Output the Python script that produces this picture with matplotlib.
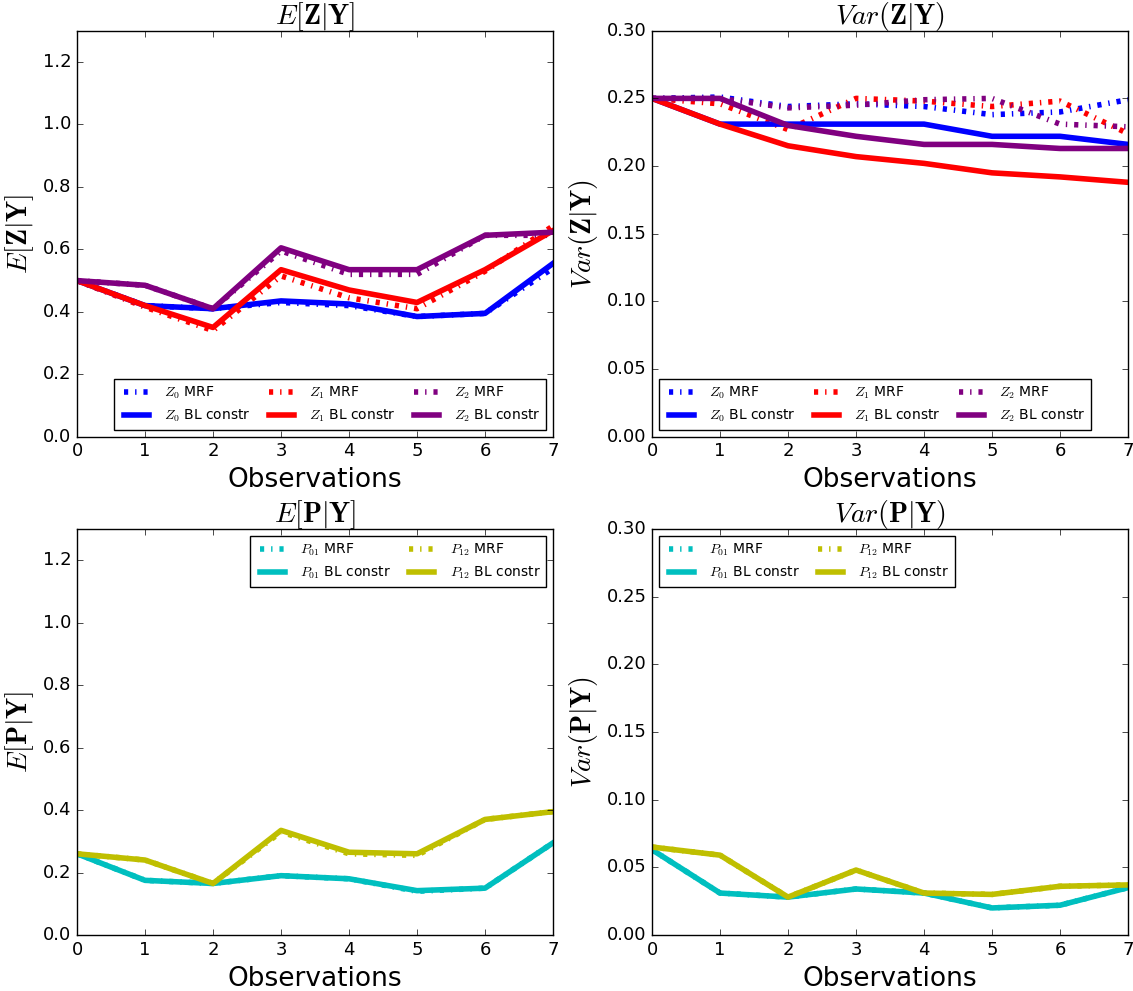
import numpy as np
import matplotlib
matplotlib.use('Agg')
import matplotlib.pyplot as plt

plt.style.use('classic')

obs = np.arange(8)

# E[Z|Y]
ez0_mrf = [0.50, 0.42, 0.41, 0.43, 0.42, 0.385, 0.395, 0.54]
ez1_mrf = [0.50, 0.415, 0.34, 0.515, 0.445, 0.41, 0.53, 0.675]
ez2_mrf = [0.50, 0.485, 0.41, 0.595, 0.52, 0.52, 0.645, 0.645]
ez0_bl = [0.50, 0.42, 0.41, 0.435, 0.425, 0.385, 0.395, 0.555]
ez1_bl = [0.50, 0.42, 0.35, 0.535, 0.47, 0.43, 0.535, 0.66]
ez2_bl = [0.50, 0.485, 0.41, 0.605, 0.535, 0.535, 0.645, 0.655]

# Var(Z|Y)
vz0_mrf = [0.25, 0.251, 0.244, 0.246, 0.244, 0.238, 0.240, 0.249]
vz1_mrf = [0.25, 0.246, 0.227, 0.250, 0.248, 0.244, 0.248, 0.224]
vz2_mrf = [0.25, 0.250, 0.243, 0.245, 0.249, 0.250, 0.231, 0.229]
vz0_bl = [0.25, 0.231, 0.231, 0.231, 0.231, 0.222, 0.222, 0.216]
vz1_bl = [0.25, 0.231, 0.215, 0.207, 0.202, 0.195, 0.192, 0.188]
vz2_bl = [0.25, 0.250, 0.230, 0.222, 0.216, 0.216, 0.213, 0.213]

# E[P|Y]
ep01_mrf = [0.26, 0.175, 0.165, 0.19, 0.18, 0.14, 0.15, 0.295]
ep12_mrf = [0.26, 0.24, 0.165, 0.33, 0.26, 0.255, 0.37, 0.395]
ep01_bl = [0.26, 0.175, 0.165, 0.19, 0.18, 0.142, 0.15, 0.295]
ep12_bl = [0.26, 0.24, 0.165, 0.335, 0.265, 0.26, 0.37, 0.395]

# Var(P|Y)
vp01_mrf = [0.063, 0.031, 0.028, 0.034, 0.031, 0.020, 0.022, 0.035]
vp12_mrf = [0.065, 0.059, 0.028, 0.048, 0.031, 0.030, 0.036, 0.037]
vp01_bl = [0.063, 0.031, 0.028, 0.034, 0.031, 0.020, 0.022, 0.035]
vp12_bl = [0.065, 0.059, 0.028, 0.048, 0.031, 0.030, 0.036, 0.037]

fig, axs = plt.subplots(2, 2, figsize=(11.33, 9.91), dpi=100)
fig.subplots_adjust(left=0.068, right=0.9956, top=0.969, bottom=0.0565,
                    hspace=0.227, wspace=0.208)

lw = 4


def panel(ax, mrf, bl, names, colors, title, ylim, loc, ncol):
    for y, n, c in zip(mrf, names, colors):
        ax.plot(obs, y, '-.', color=c, lw=lw, label=n + ' MRF')
    for y, n, c in zip(bl, names, colors):
        ax.plot(obs, y, '-', color=c, lw=lw, label=n + ' BL constr')
    # MRF above BL in each legend column
    h, l = ax.get_legend_handles_labels()
    k = len(names)
    order = []
    for i in range(k):
        order += [i, i + k]
    ax.legend([h[i] for i in order], [l[i] for i in order], loc=loc,
              ncol=ncol, fontsize=10, handlelength=2.4, columnspacing=1.0)
    ax.set_title(title, fontsize=20)
    ax.set_ylabel(title, fontsize=20)
    ax.set_xlabel('Observations', fontsize=19)
    ax.set_xlim(0, 7)
    ax.set_ylim(*ylim)
    ax.tick_params(labelsize=13)


zc = ['b', 'r', 'purple']
pc = ['c', 'y']
panel(axs[0, 0], [ez0_mrf, ez1_mrf, ez2_mrf], [ez0_bl, ez1_bl, ez2_bl],
      ['$Z_0$', '$Z_1$', '$Z_2$'], zc, r'$E[\mathbf{Z}|\mathbf{Y}]$',
      (0, 1.3), 'lower right', 3)
panel(axs[0, 1], [vz0_mrf, vz1_mrf, vz2_mrf], [vz0_bl, vz1_bl, vz2_bl],
      ['$Z_0$', '$Z_1$', '$Z_2$'], zc, r'$Var(\mathbf{Z}|\mathbf{Y})$',
      (0, 0.3), 'lower left', 3)
panel(axs[1, 0], [ep01_mrf, ep12_mrf], [ep01_bl, ep12_bl],
      ['$P_{01}$', '$P_{12}$'], pc, r'$E[\mathbf{P}|\mathbf{Y}]$',
      (0, 1.3), 'upper right', 2)
panel(axs[1, 1], [vp01_mrf, vp12_mrf], [vp01_bl, vp12_bl],
      ['$P_{01}$', '$P_{12}$'], pc, r'$Var(\mathbf{P}|\mathbf{Y})$',
      (0, 0.3), 'upper left', 2)

fig.savefig('out.png', dpi=100)
